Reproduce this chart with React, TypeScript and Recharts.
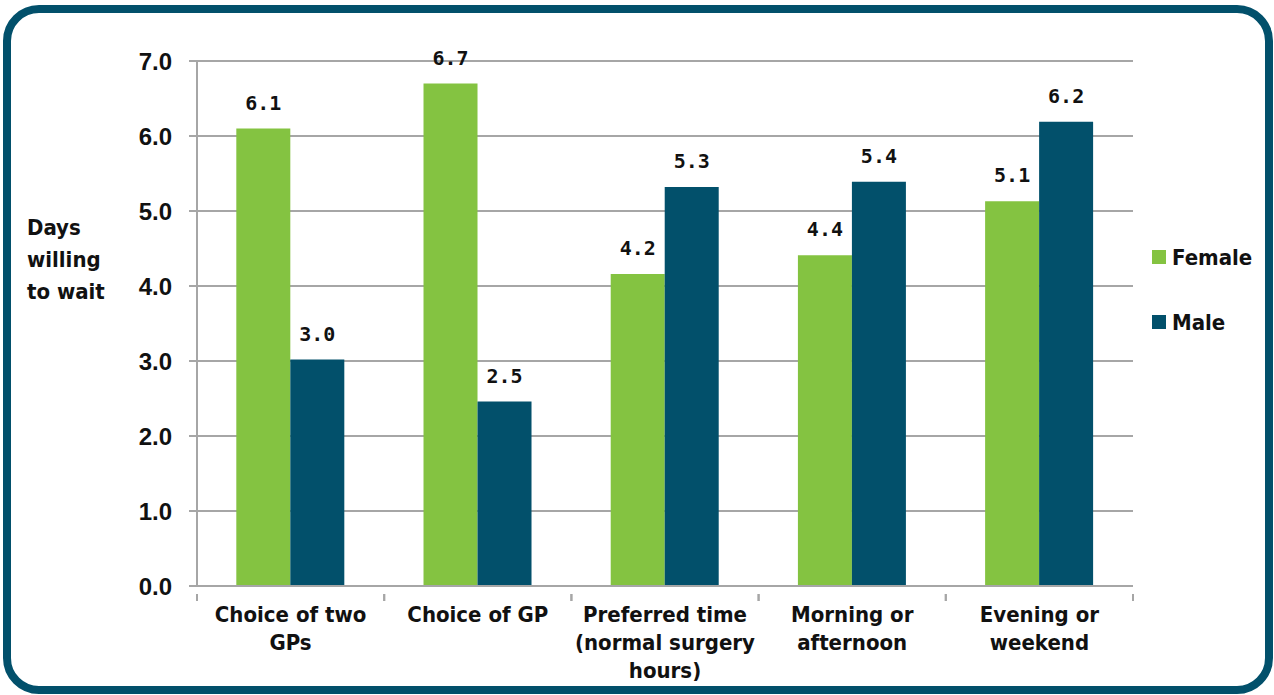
import { Bar, BarChart, CartesianGrid, LabelList, XAxis, YAxis } from "recharts";

const categories = [
  ["Choice of two", "GPs"],
  ["Choice of GP"],
  ["Preferred time", "(normal surgery", "hours)"],
  ["Morning or", "afternoon"],
  ["Evening or", "weekend"],
];
const female = [6.1, 6.7, 4.16, 4.41, 5.13];
const male = [3.02, 2.46, 5.32, 5.39, 6.19];
const yTicks = [0, 1, 2, 3, 4, 5, 6, 7];

const GREEN = "#84c341";
const TEAL = "#02506b";
const GRID = "#a6a6a6";
const LABEL_FONT = "'DejaVu Sans Condensed', 'DejaVu Sans', sans-serif";

const W = 1274;
const H = 695;
const PLOT_LEFT = 197;
const PLOT_RIGHT = 1133;
const PLOT_TOP = 61;
const PLOT_BOTTOM = 586;
// half of one category band, for the boundary tick marks
const HALF_BAND = (PLOT_RIGHT - PLOT_LEFT) / categories.length / 2;

const data = categories.map((lines, i) => ({
  name: lines.join(" "),
  lines,
  female: female[i],
  male: male[i],
}));

function CategoryTick(props: any) {
  const { x, y, payload, index } = props;
  const lines = categories[index] ?? [payload.value];
  return (
    <g>
      <line x1={x - HALF_BAND} x2={x - HALF_BAND} y1={y} y2={y + 7} stroke={GRID} strokeWidth={2} />
      <line x1={x + HALF_BAND} x2={x + HALF_BAND} y1={y} y2={y + 7} stroke={GRID} strokeWidth={2} />
      <text
        x={x}
        y={y + 28}
        textAnchor="middle"
        fill="#111"
        style={{ fontFamily: LABEL_FONT, fontWeight: 700, fontSize: 22 }}
      >
        {lines.map((l: string, i: number) => (
          <tspan key={i} x={x} dy={i === 0 ? 0 : 28}>
            {l}
          </tspan>
        ))}
      </text>
    </g>
  );
}

function ValueLabel(props: any) {
  const { x, y, width, value } = props;
  return (
    <text
      x={x + width / 2}
      y={y - 19}
      textAnchor="middle"
      fill="#111"
      style={{ fontFamily: "'DejaVu Sans Mono', monospace", fontWeight: 700, fontSize: 20 }}
    >
      {Number(value).toFixed(1)}
    </text>
  );
}

export default function App() {
  return (
    <div style={{ position: "absolute", left: 0, top: 0, width: W, height: H, background: "#fff" }}>
      <div
        style={{
          position: "absolute",
          left: 3,
          top: 5,
          width: 1270,
          height: 689,
          boxSizing: "border-box",
          border: `8px solid ${TEAL}`,
          borderRadius: 36,
        }}
      />
      <div style={{ position: "absolute", left: 0, top: 0 }}>
        <BarChart
          width={W}
          height={H}
          data={data}
          margin={{ top: PLOT_TOP, right: W - PLOT_RIGHT, bottom: 0, left: 0 }}
          barCategoryGap="21%"
          barGap={0}
        >
          <CartesianGrid vertical={false} stroke={GRID} strokeWidth={2} />
          <XAxis
            dataKey="name"
            axisLine={{ stroke: GRID, strokeWidth: 2 }}
            tickLine={false}
            tick={<CategoryTick />}
            interval={0}
            height={H - PLOT_BOTTOM}
          />
          <YAxis
            width={PLOT_LEFT}
            domain={[0, 7]}
            ticks={yTicks}
            interval={0}
            tickFormatter={(v: number) => v.toFixed(1)}
            axisLine={{ stroke: GRID, strokeWidth: 2 }}
            tickLine={{ stroke: GRID, strokeWidth: 2 }}
            tickSize={8}
            tickMargin={17}
            tick={{
              fill: "#111",
              fontFamily: "'Liberation Sans', Arial, sans-serif",
              fontWeight: 700,
              fontSize: 24,
            }}
          />
          <Bar dataKey="female" fill={GREEN} isAnimationActive={false}>
            <LabelList dataKey="female" content={<ValueLabel />} />
          </Bar>
          <Bar dataKey="male" fill={TEAL} isAnimationActive={false}>
            <LabelList dataKey="male" content={<ValueLabel />} />
          </Bar>
        </BarChart>
      </div>
      <div
        style={{
          position: "absolute",
          left: 27,
          top: 212,
          fontFamily: LABEL_FONT,
          fontWeight: 700,
          fontSize: 22,
          lineHeight: "32px",
          color: "#111",
        }}
      >
        Days
        <br />
        willing
        <br />
        to wait
      </div>
      {[
        { label: "Female", color: GREEN, top: 243 },
        { label: "Male", color: TEAL, top: 308 },
      ].map((it) => (
        <div
          key={it.label}
          style={{
            position: "absolute",
            left: 1152,
            top: it.top,
            display: "flex",
            alignItems: "center",
            height: 28,
            fontFamily: LABEL_FONT,
            fontWeight: 700,
            fontSize: 22,
            color: "#111",
          }}
        >
          <span style={{ display: "inline-block", width: 14, height: 14, background: it.color, marginRight: 6 }} />
          {it.label}
        </div>
      ))}
    </div>
  );
}
